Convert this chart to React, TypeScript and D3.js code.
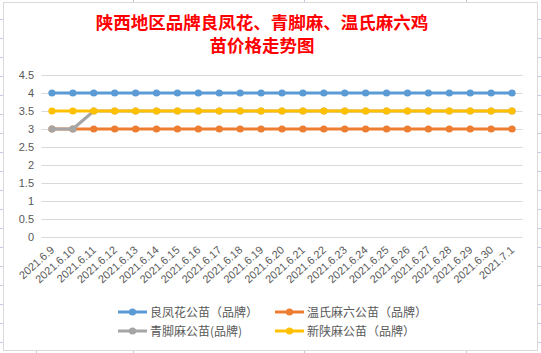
import React from "react";
import * as d3 from "d3";

// chart data
const dates = [
  "2021.6.9", "2021.6.10", "2021.6.11", "2021.6.12", "2021.6.13", "2021.6.14",
  "2021.6.15", "2021.6.16", "2021.6.17", "2021.6.18", "2021.6.19", "2021.6.20",
  "2021.6.21", "2021.6.22", "2021.6.23", "2021.6.24", "2021.6.25", "2021.6.26",
  "2021.6.27", "2021.6.28", "2021.6.29", "2021.6.30", "2021.7.1",
];
const liangFengHua = [4, 4, 4, 4, 4, 4, 4, 4, 4, 4, 4, 4, 4, 4, 4, 4, 4, 4, 4, 4, 4, 4, 4];
const wenShiMaLiu = [3, 3, 3, 3, 3, 3, 3, 3, 3, 3, 3, 3, 3, 3, 3, 3, 3, 3, 3, 3, 3, 3, 3];
const qingJiaoMa = [3, 3, 3.5, 3.5, 3.5, 3.5, 3.5, 3.5, 3.5, 3.5, 3.5, 3.5, 3.5, 3.5, 3.5, 3.5, 3.5, 3.5, 3.5, 3.5, 3.5, 3.5, 3.5];
const xinShanMa = [3.5, 3.5, 3.5, 3.5, 3.5, 3.5, 3.5, 3.5, 3.5, 3.5, 3.5, 3.5, 3.5, 3.5, 3.5, 3.5, 3.5, 3.5, 3.5, 3.5, 3.5, 3.5, 3.5];
const yTicks = [0, 0.5, 1, 1.5, 2, 2.5, 3, 3.5, 4, 4.5];

const series = [
  { name: "良凤花公苗（品牌）", values: liangFengHua, color: "#5B9BD5" },
  { name: "温氏麻六公苗（品牌）", values: wenShiMaLiu, color: "#ED7D31" },
  { name: "青脚麻公苗(品牌)", values: qingJiaoMa, color: "#A5A5A5" },
  { name: "新陕麻公苗（品牌）", values: xinShanMa, color: "#FFC000" },
];

const W = 541;
const H = 353;

export default function App() {
  const x = d3.scaleBand().domain(dates).range([41.5, 522.5]);
  const y = d3.scaleLinear().domain([0, 4.5]).range([237, 75]);
  const cx = (d: string) => (x(d) ?? 0) + x.bandwidth() / 2;
  const line = d3
    .line<number>()
    .x((_, i) => cx(dates[i]))
    .y((v) => y(v));

  const cjk = "'Noto Sans CJK SC', 'Noto Sans', sans-serif";
  const num = "'Liberation Sans', Arial, sans-serif";

  // spreadsheet cell marks around the chart
  const rowMarks = d3.range(19, H, 19);
  const colMarks = [133, 304, 466];

  return (
    <svg width={W} height={H} style={{ position: "absolute", left: 0, top: 0 }}>
      <rect width={W} height={H} fill="#fff" />
      {rowMarks.map((r) => (
        <g key={r} stroke="#C6C9DF" strokeWidth={1}>
          <line x1={0} x2={3} y1={r + 0.5} y2={r + 0.5} />
          <line x1={538} x2={541} y1={r + 0.5} y2={r + 0.5} />
        </g>
      ))}
      {colMarks.map((c) => (
        <g key={c} stroke="#C6C9DF" strokeWidth={1}>
          <line x1={c + 0.5} x2={c + 0.5} y1={0} y2={2} />
          <line x1={c + 0.5} x2={c + 0.5} y1={351} y2={H} />
        </g>
      ))}
      <line x1={36.5} x2={36.5} y1={351} y2={H} stroke="#C6C9DF" />
      <rect x={3.5} y={2.5} width={534} height={348} fill="#fff" stroke="#D9D9D9" />

      <text x={262} y={29} textAnchor="middle" fill="#FF0000" fontSize={17.5} fontWeight="bold" fontFamily={cjk}>
        陕西地区品牌良凤花、青脚麻、温氏麻六鸡
      </text>
      <text x={262} y={52} textAnchor="middle" fill="#FF0000" fontSize={17.5} fontWeight="bold" fontFamily={cjk}>
        苗价格走势图
      </text>

      {yTicks.map((t) => (
        <g key={t}>
          <line x1={41.5} x2={522.5} y1={Math.round(y(t)) + 0.5} y2={Math.round(y(t)) + 0.5} stroke="#D9D9D9" />
          <text x={34} y={y(t) + 4} textAnchor="end" fill="#595959" fontSize={11} fontFamily={num}>
            {t}
          </text>
        </g>
      ))}

      {dates.map((d) => (
        <text
          key={d}
          transform={`translate(${cx(d) + 3},${251}) rotate(-42)`}
          textAnchor="end"
          fill="#595959"
          fontSize={11}
          fontFamily={num}
        >
          {d}
        </text>
      ))}

      {series.map((s) => (
        <g key={s.name}>
          <path d={line(s.values) ?? ""} fill="none" stroke={s.color} strokeWidth={3} strokeLinejoin="round" />
          {s.values.map((v, i) => (
            <circle key={i} cx={cx(dates[i])} cy={y(v)} r={3.6} fill={s.color} />
          ))}
        </g>
      ))}

      {series.map((s, i) => {
        const lx = i % 2 === 0 ? 118 : 275;
        const ly = i < 2 ? 312 : 331;
        return (
          <g key={s.name}>
            <line x1={lx} x2={lx + 29} y1={ly} y2={ly} stroke={s.color} strokeWidth={3} />
            <circle cx={lx + 14.5} cy={ly} r={3.6} fill={s.color} />
            <text x={lx + 32} y={ly + 4.5} fill="#595959" fontSize={12} fontFamily={cjk}>
              {s.name}
            </text>
          </g>
        );
      })}
    </svg>
  );
}
